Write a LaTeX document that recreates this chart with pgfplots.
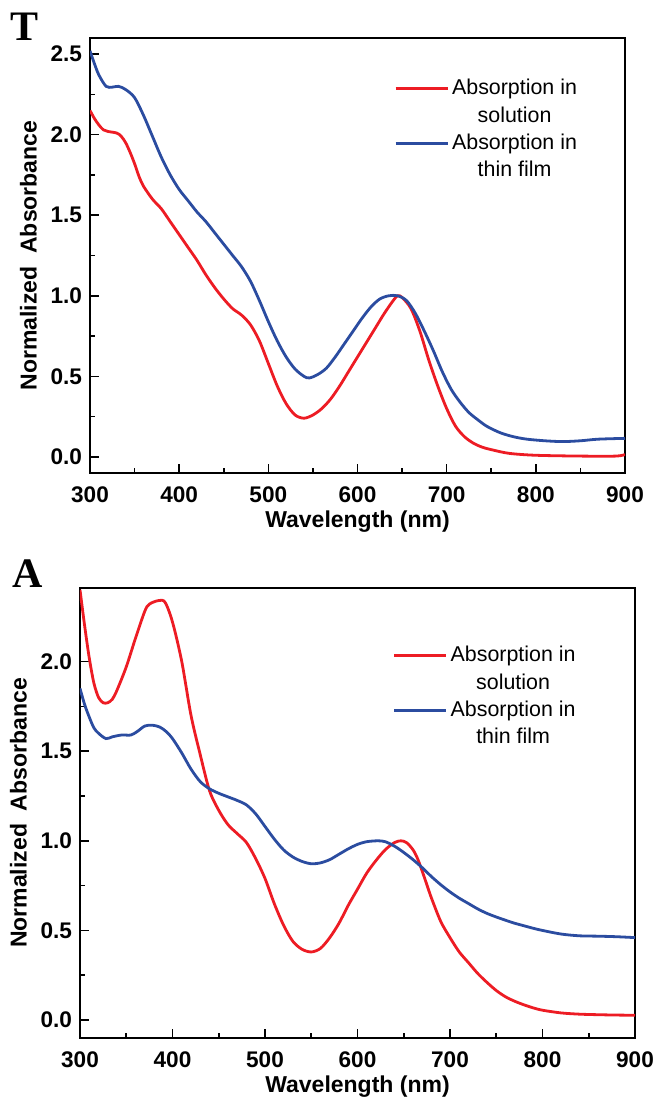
\documentclass[border=0pt]{standalone}
\usepackage{pgfplots}
\pgfplotsset{compat=1.18}
\usepackage{fontspec}
\setmainfont{Liberation Sans}
\newfontfamily\serifbf{Liberation Serif}
\definecolor{solred}{RGB}{237,28,36}
\definecolor{filmblue}{RGB}{43,76,160}

\pgfplotsset{
  spec/.style={
    scale only axis,
    anchor=south west,
    xmin=300, xmax=900,
    xtick={300,400,...,900},
    minor x tick num=1,
    minor y tick num=1,
    tick pos=left,
    tick align=inside,
    major tick length=4.5pt,
    minor tick length=2.3pt,
    every tick/.style={black, line width=0.8pt},
    axis line style={line width=1pt},
    /pgf/number format/assume math mode=true,
    ticklabel style={font=\fontsize{11.3}{13}\selectfont\bfseries},
    yticklabel style={/pgf/number format/fixed, /pgf/number format/precision=1,
      /pgf/number format/fixed zerofill, xshift=-0.5pt},
    xticklabel style={yshift=-3.5pt},
    xlabel={Wavelength (nm)},
    ylabel={Normalized\ \ Absorbance},
    label style={font=\fontsize{11.5}{13}\selectfont\bfseries},
    xlabel style={yshift=3pt},
    legend image code/.code={\draw[#1] (0pt,0pt) -- (26pt,0pt);},
    legend cell align=center,
    legend style={draw=none, fill=none, inner sep=0pt,
      font=\fontsize{10.7}{12}\selectfont,
      row sep=0.4pt, anchor=north west,
      nodes={inner xsep=1.5pt}},
    every axis plot/.append style={line width=1.4pt, smooth},
  }
}

\begin{document}
\begin{tikzpicture}
\path (0pt,0pt) rectangle (328pt,-553pt);

\node[font=\fontsize{21}{22}\selectfont\bfseries\serifbf, anchor=base] at (12.3pt,-20.5pt) {T};
\node[font=\fontsize{21}{22}\selectfont\bfseries\serifbf, anchor=base] at (13.6pt,-293.5pt) {A};

% panel T
\begin{axis}[spec,
  at={(45pt,-236.5pt)},
  width=267.5pt, height=217.5pt,
  ymin=-0.1, ymax=2.6,
  ytick={0,0.5,...,2.5},
  legend style={at={(0.568,0.915)}},
]
\addplot[solred] coordinates {
(300,2.15) (305,2.10) (310,2.06) (315,2.03) (320,2.02) (330,2.01) (335,1.99)
(340,1.95) (345,1.89) (350,1.82) (355,1.74) (360,1.68) (370,1.60) (380,1.54)
(390,1.46) (400,1.38) (410,1.30) (420,1.22) (430,1.13) (440,1.05) (450,0.98)
(460,0.92) (470,0.88) (480,0.82) (490,0.72) (500,0.58) (510,0.44) (520,0.33)
(530,0.26) (540,0.24) (550,0.26) (560,0.30) (570,0.36) (580,0.44) (590,0.53)
(600,0.62) (610,0.71) (620,0.80) (630,0.89) (640,0.97) (645,1.00) (650,0.99)
(660,0.92) (670,0.78) (680,0.60) (690,0.44) (700,0.30) (710,0.19) (720,0.125)
(730,0.085) (740,0.06) (750,0.045) (770,0.022) (800,0.01) (850,0.005)
(890,0.005) (900,0.015)
};
\addlegendentry{Absorption in}
\addlegendimage{empty legend}
\addlegendentry{solution}
\addplot[filmblue] coordinates {
(300,2.52) (305,2.44) (310,2.37) (318,2.30) (325,2.295) (332,2.30) (340,2.28)
(350,2.23) (360,2.12) (370,1.99) (380,1.86) (390,1.75) (400,1.66) (410,1.59)
(420,1.52) (430,1.46) (440,1.39) (450,1.32) (460,1.25) (470,1.18) (480,1.09)
(490,0.97) (500,0.84) (510,0.72) (520,0.62) (530,0.545) (540,0.50) (546,0.49)
(555,0.51) (565,0.55) (575,0.62) (585,0.70) (595,0.78) (605,0.86) (615,0.93)
(625,0.98) (635,1.00) (645,1.00) (655,0.97) (665,0.89) (675,0.78) (685,0.66)
(695,0.53) (705,0.42) (715,0.34) (725,0.275) (735,0.23) (745,0.19) (760,0.15)
(775,0.125) (790,0.11) (810,0.10) (830,0.095) (850,0.10) (870,0.11) (900,0.115)
};
\addlegendentry{Absorption in}
\addlegendimage{empty legend}
\addlegendentry{thin film}
\end{axis}

% panel A
\begin{axis}[spec,
  at={(40pt,-519pt)},
  width=277.5pt, height=225pt,
  ymin=-0.1, ymax=2.41,
  ytick={0,0.5,...,2.0},
  legend style={at={(0.563,0.88)}},
]
\addplot[solred] coordinates {
(300,2.40) (305,2.20) (310,2.02) (315,1.88) (320,1.80) (325,1.77) (330,1.77)
(335,1.79) (340,1.84) (350,1.97) (360,2.13) (370,2.28) (375,2.32) (385,2.34)
(392,2.33) (400,2.22) (410,2.00) (420,1.70) (430,1.48) (440,1.28) (450,1.17)
(460,1.09) (470,1.04) (480,0.99) (490,0.90) (500,0.79) (510,0.65) (520,0.53)
(530,0.44) (540,0.395) (550,0.38) (560,0.40) (570,0.46) (580,0.54) (590,0.64)
(600,0.73) (610,0.82) (620,0.89) (630,0.95) (640,0.99) (647,1.00) (653,0.99)
(660,0.95) (665,0.90) (670,0.83) (675,0.755) (680,0.68) (690,0.55) (700,0.46)
(710,0.38) (720,0.32) (730,0.26) (740,0.21) (750,0.165) (760,0.13) (770,0.105)
(780,0.085) (790,0.068) (800,0.055) (820,0.04) (840,0.033) (860,0.03)
(880,0.028) (900,0.027)
};
\addlegendentry{Absorption in}
\addlegendimage{empty legend}
\addlegendentry{solution}
\addplot[filmblue] coordinates {
(300,1.85) (305,1.76) (310,1.69) (315,1.63) (320,1.60) (328,1.57) (335,1.58)
(345,1.59) (355,1.59) (362,1.61) (370,1.64) (378,1.645) (386,1.635) (393,1.61)
(400,1.57) (410,1.49) (420,1.40) (430,1.33) (440,1.29) (450,1.265) (460,1.245)
(470,1.225) (480,1.20) (490,1.15) (500,1.08) (510,1.01) (520,0.95) (530,0.91)
(540,0.885) (550,0.872) (560,0.877) (570,0.895) (580,0.925) (590,0.955)
(600,0.98) (610,0.995) (622,1.00) (630,0.995) (640,0.97) (650,0.935) (660,0.895)
(670,0.85) (680,0.80) (690,0.755) (700,0.715) (710,0.68) (720,0.65) (730,0.62)
(740,0.595) (750,0.575) (760,0.557) (770,0.54) (780,0.526) (790,0.512)
(800,0.50) (820,0.48) (840,0.47) (860,0.468) (880,0.465) (900,0.46)
};
\addlegendentry{Absorption in}
\addlegendimage{empty legend}
\addlegendentry{thin film}
\end{axis}
\end{tikzpicture}
\end{document}
